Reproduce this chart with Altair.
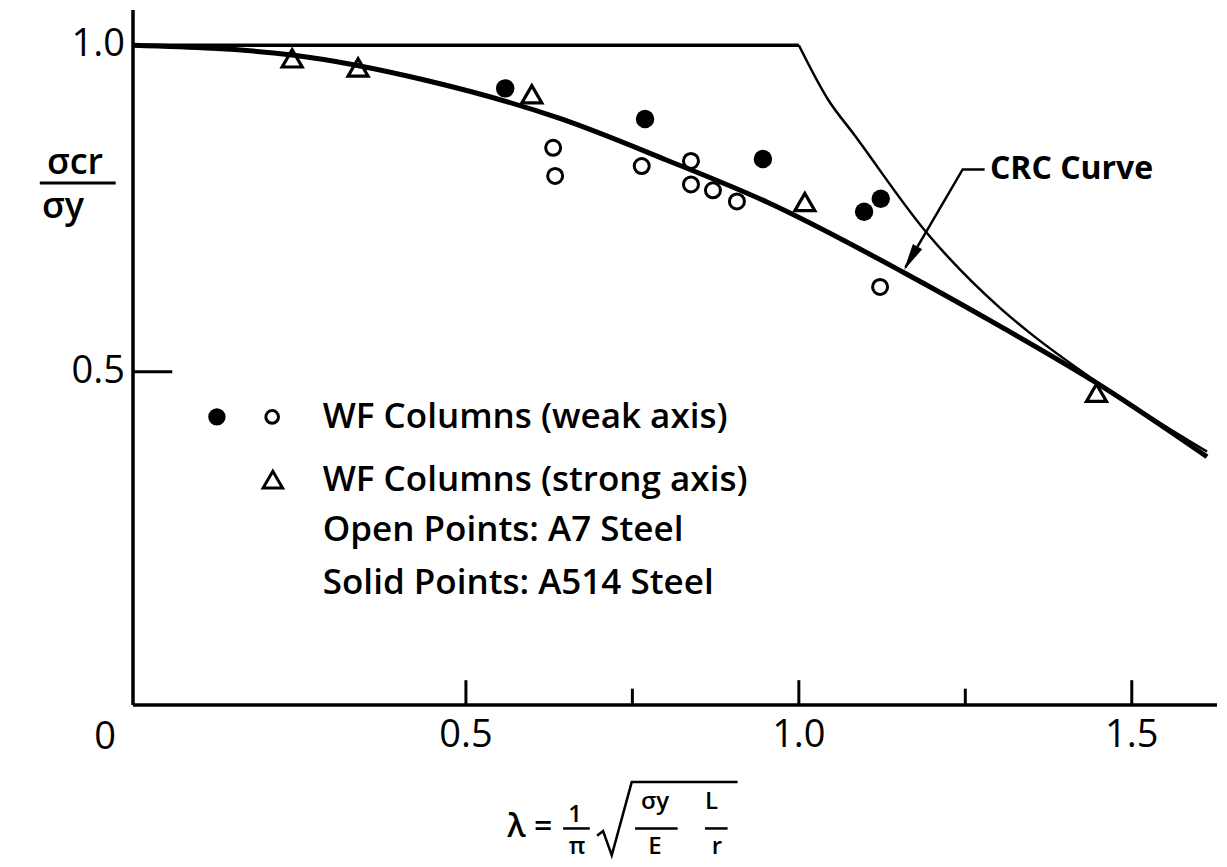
import altair as alt
import pandas as pd

FONT = "Open Sans"

# ---- curves (lambda, sigma_cr/sigma_y) ----
crc_x = [0.0, 0.239, 0.441, 0.641, 0.802, 0.952, 1.156, 1.302, 1.447, 1.613]
crc_y = [1.0, 0.985, 0.946, 0.888, 0.824, 0.760, 0.653, 0.570, 0.483, 0.370]

plateau_x = [0.0, 1.0]
plateau_y = [1.0, 1.0]

euler_x = [1.0, 1.045, 1.081, 1.192, 1.302, 1.344, 1.447, 1.613]
euler_y = [1.0, 0.915, 0.866, 0.713, 0.598, 0.562, 0.485, 0.378]

# ---- test points ----
weak_open_x = [0.631, 0.634, 0.764, 0.838, 0.838, 0.871, 0.907, 1.122]
weak_open_y = [0.843, 0.800, 0.815, 0.823, 0.787, 0.778, 0.761, 0.630]

weak_solid_x = [0.559, 0.769, 0.946, 1.098, 1.123]
weak_solid_y = [0.934, 0.887, 0.826, 0.745, 0.765]

strong_open_x = [0.239, 0.338, 0.599, 1.009, 1.447]
strong_open_y = [0.980, 0.966, 0.925, 0.760, 0.468]

# ---- axis labels / ticks ----
x_tick_values = [0.5, 0.75, 1.0, 1.25, 1.5]
x_tick_major = [True, False, True, False, True]
x_label_values = [0.5, 1.0, 1.5]
x_label_text = ["0.5", "1.0", "1.5"]
y_label_values = [0.5, 1.0]
y_label_text = ["0.5", "1.0"]
y_tick_values = [0.5]

# ---- legend text ----
legend_text = ["WF Columns (weak axis)", "WF Columns (strong axis)",
               "Open Points: A7 Steel", "Solid Points: A514 Steel"]
legend_y = [0.431, 0.335, 0.258, 0.177]
legend_x = 0.285

XDOM = [0.0, 1.628]
YDOM = [-0.01, 1.054]
W, H = 1084, 695

xs = alt.Scale(domain=XDOM, nice=False, zero=False)
ys = alt.Scale(domain=YDOM, nice=False, zero=False)


def X(field="x"):
    return alt.X(f"{field}:Q", scale=xs, axis=None)


def Y(field="y"):
    return alt.Y(f"{field}:Q", scale=ys, axis=None)


# ---- axes drawn by hand ----
xdom_line = alt.Chart(pd.DataFrame({"x": [XDOM[0]], "x2": [XDOM[1]], "y": [YDOM[0]]})).mark_rule(
    color="black", strokeWidth=3.5).encode(x=X(), x2="x2:Q", y=Y())
ydom_line = alt.Chart(pd.DataFrame({"x": [0.0], "y": [YDOM[0]], "y2": [YDOM[1]]})).mark_rule(
    color="black", strokeWidth=3.5).encode(x=X(), y=Y(), y2="y2:Q")

xlabels = alt.Chart(pd.DataFrame({"x": x_label_values, "y": [-0.058] * 3, "t": x_label_text})).mark_text(
    align="center", baseline="middle", font=FONT, fontSize=38, color="black").encode(
    x=X(), y=Y(), text="t:N")
ylabels = alt.Chart(pd.DataFrame({"x": [-0.012] * 2, "y": y_label_values, "t": y_label_text})).mark_text(
    align="right", baseline="middle", font=FONT, fontSize=38, color="black").encode(
    x=X(), y=Y(), text="t:N")
zero_label = alt.Chart(pd.DataFrame({"x": [-0.042], "y": [-0.060], "t": ["0"]})).mark_text(
    align="center", baseline="middle", font=FONT, fontSize=38, color="black").encode(
    x=X(), y=Y(), text="t:N")

major_len, minor_len = 0.038, 0.025
tick_df = pd.DataFrame({
    "x": x_tick_values,
    "y": [YDOM[0]] * len(x_tick_values),
    "y2": [YDOM[0] + (major_len if m else minor_len) for m in x_tick_major],
})
xticks = alt.Chart(tick_df).mark_rule(color="black", strokeWidth=3).encode(
    x=X(), y=Y(), y2="y2:Q")

ytick_df = pd.DataFrame({"y": y_tick_values, "x": [0.0], "x2": [0.059]})
yticks = alt.Chart(ytick_df).mark_rule(color="black", strokeWidth=3).encode(
    x=X(), x2="x2:Q", y=Y())

# ---- curves ----
plateau = alt.Chart(pd.DataFrame({"x": plateau_x, "y": plateau_y})).mark_line(
    color="black", strokeWidth=3.5).encode(x=X(), y=Y())
euler = alt.Chart(pd.DataFrame({"x": euler_x, "y": euler_y})).mark_line(
    color="black", strokeWidth=2.5, interpolate="monotone").encode(x=X(), y=Y())
crc = alt.Chart(pd.DataFrame({"x": crc_x, "y": crc_y})).mark_line(
    color="black", strokeWidth=5, interpolate="monotone").encode(x=X(), y=Y())

# ---- points ----
open_pts = alt.Chart(pd.DataFrame({"x": weak_open_x, "y": weak_open_y})).mark_point(
    shape="circle", filled=False, color="black", strokeWidth=3, size=225, opacity=1).encode(x=X(), y=Y())
solid_pts = alt.Chart(pd.DataFrame({"x": weak_solid_x, "y": weak_solid_y})).mark_point(
    shape="circle", filled=True, color="black", size=340, opacity=1).encode(x=X(), y=Y())
tri_pts = alt.Chart(pd.DataFrame({"x": strong_open_x, "y": strong_open_y})).mark_point(
    shape="triangle-up", filled=False, color="black", strokeWidth=3.2, size=400, opacity=1).encode(x=X(), y=Y())

# ---- legend ----
leg_solid = alt.Chart(pd.DataFrame({"x": [0.126], "y": [0.431]})).mark_point(
    shape="circle", filled=True, color="black", size=300, opacity=1).encode(x=X(), y=Y())
leg_open = alt.Chart(pd.DataFrame({"x": [0.209], "y": [0.431]})).mark_point(
    shape="circle", filled=False, color="black", strokeWidth=3, size=160, opacity=1).encode(x=X(), y=Y())
leg_tri = alt.Chart(pd.DataFrame({"x": [0.210], "y": [0.335]})).mark_point(
    shape="triangle-up", filled=False, color="black", strokeWidth=3, size=380, opacity=1).encode(x=X(), y=Y())
leg_text = alt.Chart(pd.DataFrame({"x": [legend_x] * 4, "y": legend_y, "t": legend_text})).mark_text(
    align="left", baseline="middle", font=FONT, fontSize=35, fontWeight=600, color="black").encode(
    x=X(), y=Y(), text="t:N")

# ---- CRC curve annotation ----
leader_df = pd.DataFrame({"x": [1.279, 1.246, 1.160], "y": [0.810, 0.810, 0.660], "o": [0, 1, 2]})
leader = alt.Chart(leader_df).mark_line(color="black", strokeWidth=2.5).encode(
    x=X(), y=Y(), order="o:Q")
arrow = alt.Chart(pd.DataFrame({"x": [1.158], "y": [0.656]})).mark_point(
    shape="M0,0L-0.4,-2L0.4,-2Z", filled=True, color="black", size=729, angle=30, opacity=1).encode(x=X(), y=Y())
crc_label = alt.Chart(pd.DataFrame({"x": [1.287], "y": [0.810], "t": ["CRC Curve"]})).mark_text(
    align="left", baseline="middle", font=FONT, fontSize=32, fontWeight="bold", color="black").encode(
    x=X(), y=Y(), text="t:N")

# ---- y title: sigma_cr / sigma_y ----
ytitle_df = pd.DataFrame({"x": [-0.087, -0.105], "y": [0.820, 0.752], "t": ["σcr", "σy"]})
ytitle = alt.Chart(ytitle_df).mark_text(
    align="center", baseline="middle", font=FONT, fontSize=36, fontWeight=600, color="black").encode(
    x=X(), y=Y(), text="t:N")
ybar = alt.Chart(pd.DataFrame({"x": [-0.140], "x2": [-0.026], "y": [0.789]})).mark_rule(
    color="black", strokeWidth=3).encode(x=X(), x2="x2:Q", y=Y())

# ---- x title: lambda = 1/pi sqrt(sigma_y/E  L/r) ----
xt_big = alt.Chart(pd.DataFrame({"x": [0.596], "y": [-0.197], "t": ["λ ="]})).mark_text(
    align="center", baseline="middle", font=FONT, fontSize=32, fontWeight=600, color="black").encode(
    x=X(), y=Y(), text="t:N")
xt_small_df = pd.DataFrame({
    "x": [0.664, 0.667, 0.784, 0.784, 0.869, 0.877],
    "y": [-0.178, -0.227, -0.158, -0.228, -0.158, -0.228],
    "t": ["1", "π", "σy", "E", "L", "r"],
})
xt_small = alt.Chart(xt_small_df).mark_text(
    align="center", baseline="middle", font=FONT, fontSize=24, fontWeight=600, color="black").encode(
    x=X(), y=Y(), text="t:N")
fracbars_df = pd.DataFrame({"x": [0.646, 0.754, 0.859], "x2": [0.686, 0.818, 0.893],
                            "y": [-0.199, -0.199, -0.199]})
fracbars = alt.Chart(fracbars_df).mark_rule(color="black", strokeWidth=2.5).encode(
    x=X(), x2="x2:Q", y=Y())
sqrt_df = pd.DataFrame({"x": [0.697, 0.706, 0.719, 0.749, 0.908],
                        "y": [-0.210, -0.203, -0.240, -0.128, -0.128],
                        "o": [0, 1, 2, 3, 4]})
sqrt_sign = alt.Chart(sqrt_df).mark_line(color="black", strokeWidth=2.5).encode(
    x=X(), y=Y(), order="o:Q")

chart = alt.layer(
    xdom_line, ydom_line, xticks, yticks, xlabels, ylabels, zero_label,
    plateau, euler, crc, open_pts, solid_pts, tri_pts,
    leg_solid, leg_open, leg_tri, leg_text, leader, arrow, crc_label,
    ytitle, ybar, xt_big, xt_small, fracbars, sqrt_sign,
).properties(
    width=W, height=H,
    autosize=alt.AutoSizeParams(type="none"),
    padding={"left": 125, "top": 2, "right": 2, "bottom": 158},
    background="white",
).configure_view(stroke=None)

chart.save("out.html", embed_options={"renderer": "svg", "actions": False})
